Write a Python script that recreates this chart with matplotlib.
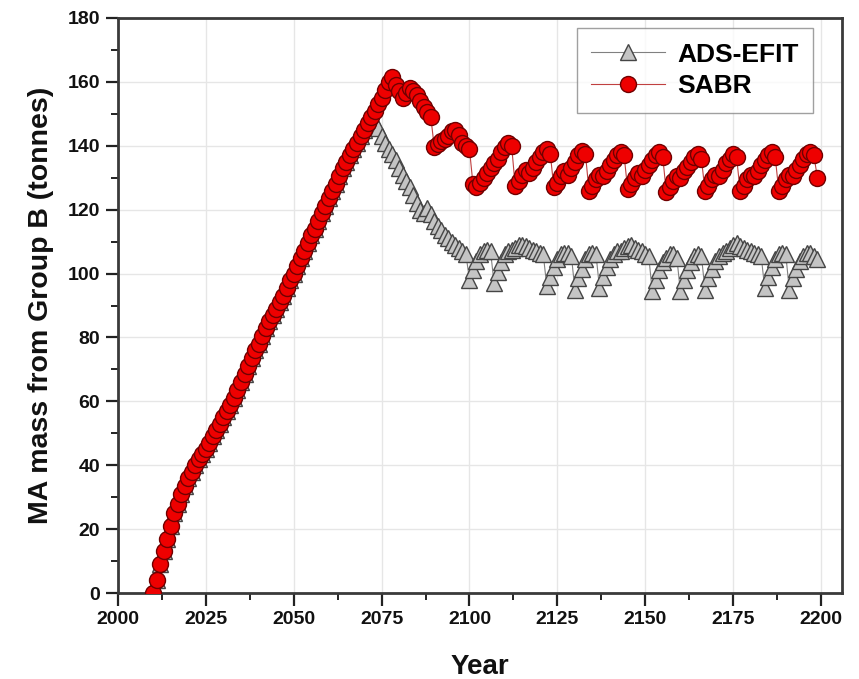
import numpy as np
import matplotlib
matplotlib.use("Agg")
import matplotlib.pyplot as plt
from matplotlib.ticker import MultipleLocator

plt.rcParams['font.family'] = ['Liberation Sans', 'DejaVu Sans']
plt.rcParams['font.weight'] = 'bold'

# ---- data (tonnes), annual points from 2010 ----
start_year = 2010
# shared build-up phase 2010-2072
ramp = [0, 4, 9, 13, 17, 21, 25, 28, 31, 33.5,
        36, 38, 40, 42, 43.5, 45, 47, 49, 51, 53,
        55, 57, 59, 61, 63.5, 66, 68.5, 71, 73.5, 76,
        78, 80.5, 83, 85, 87, 89, 91, 93, 95.5, 98,
        100, 102.5, 105, 107, 109.5, 112, 114, 116.5, 119, 121,
        123.5, 126, 128, 130.5, 133, 135, 137, 139, 141, 143,
        145, 147, 149]

ads_tail = [147, 145.5, 143, 141, 139, 137.5, 135.5, 133, 131, 129,
            127, 124.5, 122, 120, 119, 120.5, 118.5, 116.5, 115, 113.5,
            112, 111, 110, 109, 108, 107, 106,
            98, 101, 104, 106, 107, 107.5, 107,
            97, 100.5, 103.5, 106, 107, 107.5,
            108, 109, 109, 108.5, 108, 107.5, 107, 106.5, 106,
            96, 99, 102, 104.5, 106, 106.5, 106.5, 105.5,
            95, 98.5, 101.5, 104.5, 106, 106.5, 106,
            95.5, 99, 102, 104.5, 106, 107, 107,
            108, 108.5, 109, 108, 107.5, 107, 106, 105.5,
            94.5, 98, 101, 103.5, 105, 106, 106, 105,
            94.5, 98, 101, 103.5, 105.5, 106, 105.5,
            95, 98.5, 101.5, 104, 105.5, 106.5, 107,
            108, 109, 109.5, 108.5, 108, 107.5, 107, 106.5, 106, 105.5,
            95.5, 99, 102, 104.5, 106, 106.5, 106,
            95, 98.5, 101.5, 104, 105.5, 106.5, 106.5, 105.5, 104.5]

sabr_tail = [151, 153, 155, 157.5, 160, 161.5, 159, 157, 155, 156.5,
             158, 157, 156, 154, 152, 150.5, 149,
             139.5, 140.5, 141.5, 142, 143, 144.5, 145, 143.5, 141, 140, 139,
             128, 127, 128.5, 130, 131.5, 133, 134.5, 136, 138, 139.5, 141, 140,
             127.5, 129, 131, 132.5, 131.5, 133, 135, 136.5, 138, 139, 137.5,
             127, 128.5, 130.5, 132, 131, 133, 135, 137, 138.5, 137.5,
             126, 127.5, 129.5, 131, 130.5, 132, 134, 135.5, 137, 138, 137,
             126.5, 128, 130, 131.5, 130.5, 132.5, 134, 135.5, 137, 138, 136.5,
             125.5, 127, 129, 130.5, 130, 132, 133.5, 135, 136.5, 137.5, 136,
             126, 127.5, 129.5, 131, 130.5, 132.5, 134.5, 136, 137.5, 136.5,
             126, 127.5, 129.5, 131, 130.5, 132, 134, 135.5, 137, 138, 136.5,
             126, 127.5, 129.5, 131, 130.5, 132.5, 134, 136, 137.5, 138, 137,
             130]

ads = np.array(ramp + ads_tail, dtype=float)
sabr = np.array(ramp + sabr_tail, dtype=float)
years_ads = np.arange(start_year, start_year + len(ads))
years_sabr = np.arange(start_year, start_year + len(sabr))

x_ticks = [2000, 2025, 2050, 2075, 2100, 2125, 2150, 2175, 2200]
y_ticks = [0, 20, 40, 60, 80, 100, 120, 140, 160, 180]

fig = plt.figure(figsize=(8.59, 6.79), dpi=100)
ax = fig.add_axes([118/859, 1-593/679, (842-118)/859, (593-18)/679])

ax.plot(years_ads, ads, color='#808080', lw=0.8, marker='^', markersize=12,
        markerfacecolor='#c4c4c4', markeredgecolor='#454545', markeredgewidth=1.0,
        label='ADS-EFIT', zorder=3)
ax.plot(years_sabr, sabr, color='#c04040', lw=0.8, marker='o', markersize=11.5,
        markerfacecolor='#ee0000', markeredgecolor='#700000', markeredgewidth=1.0,
        label='SABR', zorder=4)

ax.set_xlim(2000, 2206)
ax.set_ylim(0, 180)
ax.set_xticks(x_ticks)
ax.set_yticks(y_ticks)
ax.xaxis.set_minor_locator(MultipleLocator(12.5))
ax.yaxis.set_minor_locator(MultipleLocator(10))
ax.tick_params(axis='both', which='major', direction='out', length=9, width=1.6,
               labelsize=14, colors='#222222', pad=4)
ax.tick_params(axis='both', which='minor', direction='out', length=5, width=1.4,
               colors='#222222')
ax.tick_params(top=False, right=False, which='both')
for lab in ax.get_xticklabels() + ax.get_yticklabels():
    lab.set_fontweight('bold')
    lab.set_color('#111111')
for s in ax.spines.values():
    s.set_linewidth(2.0)
    s.set_color('#3a3a3a')
ax.grid(True, which='major', color='#e6e6e6', lw=1.0, zorder=0)
ax.set_axisbelow(True)

ax.set_xlabel('Year', fontsize=20, fontweight='bold', labelpad=19, color='#111111')
ax.set_ylabel('MA mass from Group B (tonnes)', fontsize=20.5, fontweight='bold',
              labelpad=10, color='#111111')

leg = ax.legend(loc='upper right', bbox_to_anchor=(813/859, 1-28/679),
                bbox_transform=fig.transFigure, frameon=True,
                fancybox=False, edgecolor='#888888', handlelength=2.8,
                borderpad=0.55, labelspacing=0.3, handletextpad=0.45,
                borderaxespad=0.0,
                prop={'weight': 'bold', 'size': 19})
leg.get_frame().set_linewidth(1.0)

fig.savefig('out.png', dpi=100)
